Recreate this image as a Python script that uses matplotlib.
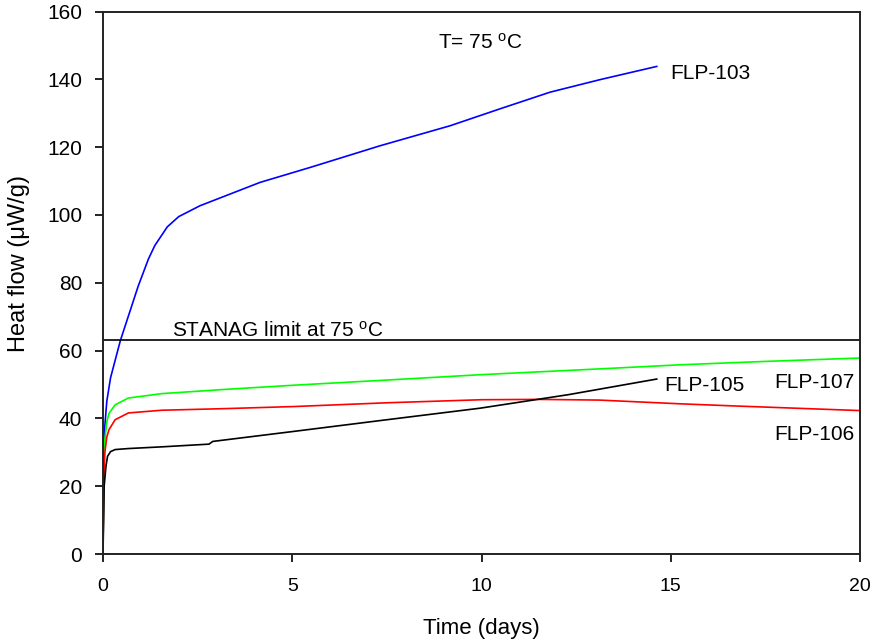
import matplotlib
matplotlib.use("Agg")
import matplotlib.pyplot as plt

plt.rcParams.update({
    'font.family': ['Liberation Sans', 'DejaVu Sans'],
    'mathtext.fontset': 'custom',
    'mathtext.rm': 'Liberation Sans',
    'mathtext.it': 'Liberation Sans',
})

# FLP-103 (blue)
t_103 = [0, 0.02, 0.05, 0.1, 0.2, 0.46, 0.93, 1.2, 1.37, 1.7, 2.0, 2.56, 4.15,
         5.47, 7.32, 9.17, 10.49, 11.81, 13.13, 14.63]
q_103 = [0, 28, 38, 45, 52, 63, 79, 87, 91, 96.5, 99.5, 102.7, 109.6,
         114.0, 120.4, 126.3, 131.3, 136.2, 139.9, 143.8]

# FLP-105 (black)
t_105 = [0, 0.03, 0.08, 0.12, 0.2, 0.32, 0.67, 1.55, 2.8, 2.9, 5.07, 7.5,
         9.96, 12.3, 14.63]
q_105 = [0, 20, 26, 28.8, 30.2, 30.8, 31.1, 31.6, 32.4, 33.2, 36.2, 39.6,
         43.0, 47.0, 51.6]

# FLP-106 (red)
t_106 = [0, 0.02, 0.05, 0.1, 0.16, 0.32, 0.67, 1.55, 3.3, 5.07, 7.5, 10.0,
         11.5, 13.1, 15.24, 16.6, 18.3, 20]
q_106 = [0, 22, 30, 34.5, 36.7, 39.6, 41.6, 42.4, 42.9, 43.5, 44.6, 45.5,
         45.6, 45.4, 44.3, 43.7, 43.0, 42.3]

# FLP-107 (green)
t_107 = [0, 0.02, 0.05, 0.1, 0.16, 0.32, 0.67, 1.55, 3.3, 5.07, 7.5, 10.0,
         13.13, 15.24, 17.5, 20]
q_107 = [0, 25, 34, 39, 41.5, 44.0, 46.0, 47.3, 48.6, 49.8, 51.3, 52.9,
         54.6, 55.8, 56.8, 57.8]

STANAG_LIMIT = 63

fig = plt.figure(figsize=(8.74, 6.44), dpi=100)
ax = fig.add_axes([103/874, 1-554/644, (860-103)/874, (554-11.5)/644])

lw = 1.2
ax.plot(t_103, q_103, color='#0000ff', lw=lw)
ax.plot(t_107, q_107, color='#00ff00', lw=lw)
ax.plot(t_106, q_106, color='#ff0000', lw=lw)
ax.plot(t_105, q_105, color='black', lw=lw)
ax.axhline(STANAG_LIMIT, color='black', lw=1.2)

ax.set_xlim(0, 20)
ax.set_ylim(0, 160)
ax.set_xticks([0, 5, 10, 15, 20])
ax.set_yticks(range(0, 161, 20))

for s in ax.spines.values():
    s.set_linewidth(1.4)
    s.set_color('#222222')
ax.tick_params(direction='out', length=6, width=1.4, color='#222222')
ax.tick_params(axis='y', labelsize=15, pad=9)
ax.tick_params(axis='x', labelsize=14, pad=11)

ax.set_xlabel('Time (days)', fontsize=16, labelpad=17)
ax.set_ylabel('Heat flow (\u03bcW/g)', fontsize=17)
ax.yaxis.set_label_coords(-0.097, 0.535)

fs = 15
ax.text(8.85, 149, r'T= 75 $^{\mathrm{o}}$C', fontsize=fs, va='baseline')
ax.text(1.81, 64.1, r'STANAG limit at 75 $^{\mathrm{o}}$C', fontsize=fs, va='baseline')
ax.text(14.98, 140.2, 'FLP-103', fontsize=fs, va='baseline')
ax.text(14.82, 48.1, 'FLP-105', fontsize=fs, va='baseline')
ax.text(17.73, 48.9, 'FLP-107', fontsize=fs, va='baseline')
ax.text(17.73, 33.7, 'FLP-106', fontsize=fs, va='baseline')

fig.savefig('out.png', dpi=100)
